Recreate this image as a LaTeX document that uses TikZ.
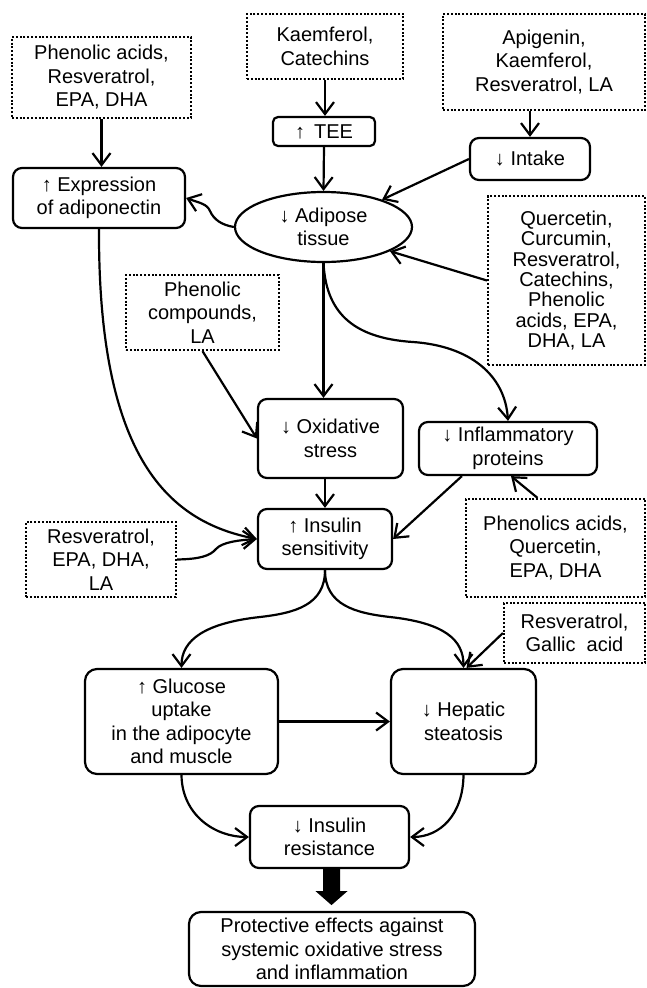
\documentclass[tikz,border=0pt]{standalone}
\usepackage{fontspec}
\setmainfont{Liberation Sans}
\usetikzlibrary{shapes.geometric,arrows.meta,calc}
\begin{document}
\begin{tikzpicture}[x=1pt,y=-1pt,
  txt/.style={font=\fontsize{20}{23.5}\selectfont, align=center, inner sep=0pt},
  solidbox/.style={txt, draw, line width=2.2pt, rounded corners=9pt},
  dotbox/.style={txt, draw, line width=2.2pt, dash pattern=on 2pt off 1.8pt},
  conn/.style={line width=2.2pt, -{Straight Barb[length=12pt,width=18pt]}},
]
\useasboundingbox (0,0) rectangle (647,988);

% source (dotted) boxes
\node[dotbox, minimum width=179pt, minimum height=81pt] (pa) at (101.5,77.5) {Phenolic acids,\\Resveratrol,\\EPA, DHA};
\node[dotbox, minimum width=156pt, minimum height=65pt] (kc) at (325,46.5) {Kaemferol,\\Catechins};
\node[dotbox, minimum width=202pt, minimum height=96pt] (ap) at (544,62) {Apigenin,\\Kaemferol,\\Resveratrol, LA};
\node[dotbox, minimum width=157pt, minimum height=169pt, font=\fontsize{20}{20.4}\selectfont] (qu) at (566.5,280.5) {Quercetin,\\Curcumin,\\Resveratrol,\\Catechins,\\Phenolic\\acids, EPA,\\DHA, LA};
\node[dotbox, minimum width=153pt, minimum height=75pt] (pc) at (202.5,312.5) {Phenolic\\compounds,\\LA};
\node[dotbox, minimum width=150pt, minimum height=75pt] (rv) at (101,559.5) {Resveratrol,\\EPA, DHA,\\LA};
\node[dotbox, minimum width=179pt, minimum height=98pt] (pq) at (555.5,548) {Phenolics acids,\\Quercetin,\\EPA, DHA};
\node[dotbox, minimum width=141pt, minimum height=60pt] (rg) at (574.5,633) {Resveratrol,\\Gallic\hspace{11pt}acid};

% effect boxes
\node[solidbox, rounded corners=5pt, minimum width=102pt, minimum height=29pt] (tee) at (324,131.5) {↑\hspace{9pt}TEE};
\node[solidbox, minimum width=120pt, minimum height=42pt] (intake) at (530,159) {↓ Intake};
\node[solidbox, minimum width=172pt, minimum height=60pt] (expr) at (99,198) {↑ Expression\\of adiponectin};
\node[txt, draw, line width=2.2pt, shape=ellipse, minimum width=177pt, minimum height=70pt] (adip) at (323.5,227) {↓ Adipose\\tissue};
\node[solidbox, minimum width=145pt, minimum height=79pt] (ox) at (330.5,438.5) {↓ Oxidative\\stress};
\node[solidbox, minimum width=178pt, minimum height=53pt] (inf) at (508,448.5) {↓ Inflammatory\\proteins};
\node[solidbox, minimum width=134pt, minimum height=60pt] (ins) at (325,539) {↑ Insulin\\sensitivity};
\node[solidbox, rounded corners=12pt, minimum width=193pt, minimum height=105pt] (glu) at (181.5,721.5) {↑ Glucose\\uptake\\in the adipocyte\\and muscle};
\node[solidbox, rounded corners=12pt, minimum width=145pt, minimum height=105pt] (hep) at (463.5,721.5) {↓ Hepatic\\steatosis};
\node[solidbox, minimum width=159pt, minimum height=62pt] (ir) at (329.5,837) {↓ Insulin\\resistance};
\node[solidbox, rounded corners=12pt, minimum width=286pt, minimum height=74pt] (pe) at (332,949) {Protective effects against\\systemic oxidative stress\\and inflammation};

% connectors
\draw[conn] (pa.south) -- (pa.south |- expr.north);
\draw[conn] (kc.south) -- (kc.south |- tee.north);
\draw[conn] (tee.south) -- (adip.north);
\draw[conn] (intake.north |- ap.south) -- (intake.north);
\draw[conn] (intake.west) -- (adip.25);
\draw[conn] (qu.west) -- (adip.-20);
\draw[conn] (adip.west) .. controls (222,225) and (214,220) .. (210,211)
   .. controls (207,204) and (200,203) .. (expr.east);
\draw[conn] (adip.south) -- (adip.south |- ox.north);
\draw[conn] (adip.south) .. controls (326,310) and (350,338) .. (413,342)
   .. controls (470,346) and (505,375) .. (inf.north);
\draw[conn] (expr.south) .. controls (98,460) and (170,522) .. (ins.west);
\draw[conn] (pc.south) -- (ox.west);
\draw[conn] (ins.north |- ox.south) -- (ins.north);
\draw[conn] ($(inf.south west)+(44,0)$) -- (ins.east);
\draw[conn] ($(pq.north)+(-18,0)$) -- ($(inf.south)+(3,0)$);
\draw[conn] (rv.east) .. controls (200,559) and (210,556) .. (216,549)
   .. controls (222,542) and (240,540) .. (ins.west);
\draw[conn] (ins.south) .. controls (325,605) and (295,613) .. (260,617)
   .. controls (205,623) and (181.5,640) .. (glu.north);
\draw[conn] (ins.south) .. controls (325,605) and (355,613) .. (390,617)
   .. controls (445,623) and (463.5,640) .. (hep.north);
\draw[conn] (rg.west) -- ($(hep.north)+(3,0)$);
\draw[conn] (glu.east) -- (hep.west);
\draw[conn] (glu.south) .. controls (182,815) and (215,837) .. (ir.west);
\draw[conn] (hep.south) .. controls (463,815) and (440,837) .. (ir.east);
\fill ($(ir.south)+(-6.5,0)$) -- ++(0,22) -- ++(-7.5,0) -- ($(ir.south)+(2,36)$)
   -- ($(ir.south)+(18,22)$) -- ++(-7.5,0) -- ($(ir.south)+(10.5,0)$) -- cycle;
\end{tikzpicture}
\end{document}
